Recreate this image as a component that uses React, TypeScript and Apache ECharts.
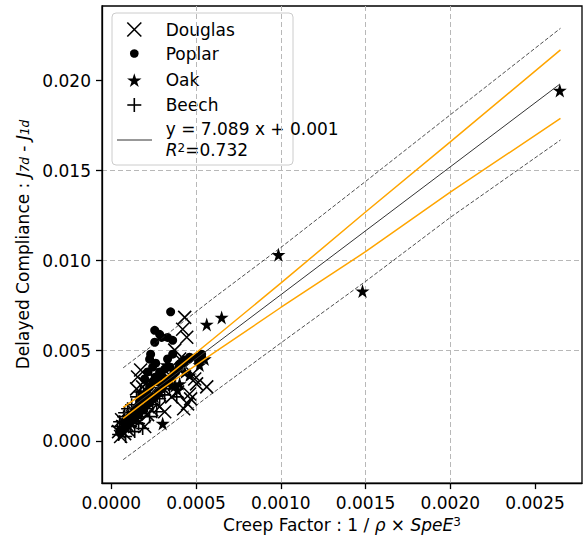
import React, { useEffect, useRef } from "react";
import * as echarts from "echarts";

const FONT = "DejaVu Sans";

// Axis ticks / ranges
const xTickValues = [0, 0.0005, 0.001, 0.0015, 0.002, 0.0025];
const yTickValues = [0, 0.005, 0.01, 0.015, 0.02];
const xRange = [-0.0000549, 0.002777];
const yRange = [-0.00235, 0.02414];

// Series data [creep factor, delayed compliance]
const douglas: [number, number][] = [
  [0.000433, 0.00685], [0.000421, 0.00619], [0.000445, 0.00575], [0.000374, 0.00503],
  [0.000403, 0.00454], [0.00048, 0.00371], [0.000503, 0.00316], [0.000462, 0.0026],
  [0.000563, 0.00299], [0.000492, 0.00343], [0.00045, 0.00205], [0.000427, 0.00178],
  [0.000468, 0.00233], [0.000391, 0.00271], [0.000356, 0.00244], [0.000173, 0.00393],
  [0.000155, 0.00354], [0.000185, 0.00299], [0.000202, 0.00316], [0.000149, 0.00288],
  [0.000226, 0.00255], [0.000256, 0.00216], [0.000285, 0.00189], [0.000315, 0.00161],
  [0.000238, 0.00172], [0.000214, 0.00145], [0.0000608, 0.00117], [0.0000667, 0.00079],
  [0.0000785, 0.0004], [0.0000549, 0.00024], [0.0000431, 0.00051], [0.0000903, 0.0009],
  [0.000108, 0.00106], [0.000126, 0.00134], [0.000138, 0.00156], [0.0000962, 0.00062],
  [0.000167, 0.00106], [0.000197, 0.00079], [0.000273, 0.00282], [0.000315, 0.00327],
  [0.000344, 0.00365],
];
const poplar: [number, number][] = [
  [0.00035, 0.00716], [0.000256, 0.00613], [0.000297, 0.00574], [0.000256, 0.00547],
  [0.000285, 0.00591], [0.000332, 0.00574], [0.000362, 0.00558], [0.000226, 0.00453],
  [0.000244, 0.00409], [0.000262, 0.00431], [0.000232, 0.00481], [0.000503, 0.00464],
  [0.000533, 0.00481], [0.000515, 0.00437], [0.000362, 0.00481], [0.000332, 0.00454],
  [0.000285, 0.00382], [0.000303, 0.00354], [0.000273, 0.00327], [0.000315, 0.00398],
  [0.000344, 0.00409], [0.00038, 0.00382], [0.000226, 0.00299], [0.000209, 0.00271],
  [0.000244, 0.00327], [0.000197, 0.00244], [0.000167, 0.00216], [0.000155, 0.00189],
  [0.000138, 0.00172], [0.00012, 0.00145], [0.0000962, 0.00123], [0.0000785, 0.00095],
  [0.000179, 0.00255], [0.000262, 0.00354], [0.000403, 0.00426], [0.000433, 0.00448],
  [0.000462, 0.00464], [0.000197, 0.00343], [0.000214, 0.00382], [0.000297, 0.00288],
  [0.000049, 0.00046], [0.0000726, 0.00068], [0.0000962, 0.0009], [0.000132, 0.00117],
  [0.000161, 0.00145], [0.000191, 0.00178], [0.00022, 0.00211], [0.00025, 0.00244],
  [0.000279, 0.00277], [0.000309, 0.0031], [0.000338, 0.00343], [0.000368, 0.00371],
  [0.000397, 0.00404], [0.000427, 0.00431], [0.000456, 0.00453],
];
const oak: [number, number][] = [
  [0.002646, 0.01945], [0.000986, 0.01033], [0.001482, 0.00831], [0.000563, 0.00646],
  [0.000651, 0.00685], [0.000303, 0.00096], [0.000327, 0.00421], [0.000403, 0.00316],
  [0.000391, 0.00283], [0.000374, 0.00305], [0.000433, 0.00382], [0.000344, 0.00338],
  [0.000285, 0.00271], [0.000256, 0.00244], [0.000226, 0.00216], [0.000197, 0.00189],
  [0.000167, 0.00161], [0.000138, 0.00134], [0.000356, 0.0031], [0.000462, 0.00365],
  [0.000521, 0.00421], [0.000551, 0.00454],
];
const beech: [number, number][] = [
  [0.0000372, 0.00079], [0.000049, 0.00106], [0.0000608, 0.00068], [0.0000726, 0.00134],
  [0.0000844, 0.00101], [0.000102, 0.00139], [0.000114, 0.00079], [0.000126, 0.00112],
  [0.000143, 0.00134], [0.000161, 0.00095], [0.000185, 0.00068], [0.000179, 0.0015],
  [0.000208, 0.00178], [0.000226, 0.00134], [0.000244, 0.002], [0.000268, 0.00161],
  [0.000285, 0.00233], [0.000315, 0.00255], [0.00012, 0.002], [0.0000962, 0.00178],
  [0.0000785, 0.00156], [0.000149, 0.00244], [0.000173, 0.00271], [0.000209, 0.00338],
  [0.000238, 0.00365], [0.000344, 0.00288], [0.000386, 0.00244], [0.0000431, 0.00035],
  [0.0000844, 0.00024], [0.000138, 0.00051],
];

// Regression line and bands
const fitX = [0.00007, 0.002646];
const fitY = [0.0015, 0.0198];
const bandX = [0.00007, 0.0003, 0.0006, 0.001, 0.0015, 0.002, 0.00265];
const confUpper = [0.00185, 0.00335, 0.00565, 0.00875, 0.0127, 0.0166, 0.0217];
const confLower = [0.00124, 0.0029, 0.00485, 0.0074, 0.0105, 0.0138, 0.0179];
const predUpper = [0.00405, 0.0057, 0.0079, 0.01073, 0.0144, 0.0181, 0.0229];
const predLower = [-0.00105, 0.00055, 0.00266, 0.00543, 0.00885, 0.0124, 0.0167];

const seriesNames = ["Douglas", "Poplar", "Oak", "Beech"];
const fitLabel = "y = 7.089 x + 0.001";
const r2Value = "=0.732";

const X_PATH = "path://M0,0L10,10M10,0L0,10";
const PLUS_PATH = "path://M5,0L5,10M0,5L10,5";
const STAR_PATH =
  "path://M50,0L61.23,34.55L97.55,34.55L68.17,55.9L79.39,90.45L50,69.1L20.61,90.45L31.83,55.9L2.45,34.55L38.77,34.55Z";

function starPoints(cx: number, cy: number, R: number) {
  const pts: number[][] = [];
  for (let k = 0; k < 10; k++) {
    const a = ((-90 + k * 36) * Math.PI) / 180;
    const rad = k % 2 ? R * 0.381 : R;
    pts.push([cx + rad * Math.cos(a), cy + rad * Math.sin(a)]);
  }
  return pts;
}

const pairs = (xs: number[], ys: number[]) => xs.map((x, i) => [x, ys[i]]);

export default function App() {
  const ref = useRef<HTMLDivElement>(null);
  useEffect(() => {
    if (!ref.current) return;
    const chart = echarts.init(ref.current, null, { renderer: "svg" });
    const labelStyle = { fontFamily: FONT, fontSize: 17, color: "#000" };
    const baseText = { fontFamily: FONT, fontSize: 17, color: "#000" };
    const axisLine = { show: true, onZero: false, lineStyle: { color: "#000", width: 1.3 } };
    const splitLine = {
      show: true,
      showMinLine: false,
      showMaxLine: false,
      lineStyle: { color: "#b8b8b8", width: 1, type: [5, 3] },
    };
    const strokeItem = { color: "none", borderColor: "#000", borderWidth: 1.6, opacity: 1 };
    const lx = 134.3;
    const tx = 165.7;
    const textStyle = (t: string, y: number) => ({
      type: "text",
      x: tx,
      y,
      style: {
        text: t,
        fontFamily: FONT,
        fontSize: 17,
        fill: "#000",
        align: "left",
        verticalAlign: "middle",
        textAlign: "left",
        textVerticalAlign: "middle",
      },
    });
    const option: any = {
      animation: false,
      textStyle: { fontFamily: FONT },
      grid: {
        left: 102,
        right: 2,
        top: 6,
        bottom: 54,
        show: true,
        borderColor: "#000",
        borderWidth: 1.3,
        backgroundColor: "transparent",
      },
      xAxis: {
        type: "value",
        min: xRange[0],
        max: xRange[1],
        axisLine,
        axisTick: { show: true, length: 6, customValues: xTickValues, lineStyle: { color: "#000", width: 1.3 } },
        axisLabel: {
          ...labelStyle,
          margin: 11,
          customValues: xTickValues,
          formatter: (v: number) => v.toFixed(4),
        },
        splitLine,
        name: "{n|Creep Factor : 1 / }{i|ρ}{n| × }{i|SpeE}{sup|3}",
        nameLocation: "middle",
        nameGap: 32,
        nameTextStyle: {
          ...baseText,
          rich: {
            n: { ...baseText, lineHeight: 17, verticalAlign: "bottom" },
            i: { ...baseText, fontStyle: "italic", lineHeight: 17, verticalAlign: "bottom" },
            sup: { ...baseText, fontSize: 12, lineHeight: 12, padding: [0, 0, 8, 0], verticalAlign: "top" },
          },
        },
      },
      yAxis: {
        type: "value",
        min: yRange[0],
        max: yRange[1],
        axisLine,
        axisTick: { show: true, length: 6, customValues: yTickValues, lineStyle: { color: "#000", width: 1.3 } },
        axisLabel: {
          ...labelStyle,
          margin: 11,
          customValues: yTickValues,
          formatter: (v: number) => v.toFixed(3),
        },
        splitLine,
        name: "{n|Delayed Compliance : }{i|J}{sub|7d}{n| - }{i|J}{sub|1d}",
        nameLocation: "middle",
        nameRotate: 90,
        nameGap: 66,
        nameTextStyle: {
          ...baseText,
          rich: {
            n: { ...baseText, lineHeight: 17, verticalAlign: "top" },
            i: { ...baseText, fontStyle: "italic", lineHeight: 17, verticalAlign: "top" },
            sub: { ...baseText, fontSize: 12, fontStyle: "italic", lineHeight: 12, padding: [8, 0, 0, 0], verticalAlign: "bottom" },
          },
        },
      },
      series: [
        {
          name: seriesNames[0], type: "scatter", data: douglas, symbol: X_PATH, symbolSize: 13,
          itemStyle: strokeItem, silent: true, z: 2,
        },
        {
          name: seriesNames[1], type: "scatter", data: poplar, symbol: "circle", symbolSize: 9,
          itemStyle: { color: "#000", opacity: 1 }, silent: true, z: 2,
        },
        {
          name: seriesNames[2], type: "scatter", data: oak, symbol: STAR_PATH, symbolSize: 14,
          itemStyle: { color: "#000", opacity: 1 }, silent: true, z: 2,
        },
        {
          name: seriesNames[3], type: "scatter", data: beech, symbol: PLUS_PATH, symbolSize: 13,
          itemStyle: strokeItem, silent: true, z: 2,
        },
        {
          name: "fit", type: "line", data: pairs(fitX, fitY), showSymbol: false, symbol: "none",
          lineStyle: { color: "#333", width: 1 }, silent: true, z: 4,
        },
        {
          name: "confU", type: "line", data: pairs(bandX, confUpper), showSymbol: false, symbol: "none",
          lineStyle: { color: "#ffa500", width: 1.5 }, silent: true, z: 3,
        },
        {
          name: "confL", type: "line", data: pairs(bandX, confLower), showSymbol: false, symbol: "none",
          lineStyle: { color: "#ffa500", width: 1.5 }, silent: true, z: 3,
        },
        {
          name: "predU", type: "line", data: pairs(bandX, predUpper), showSymbol: false, symbol: "none",
          lineStyle: { color: "#222", width: 0.8, type: [4, 2] }, silent: true, z: 3,
        },
        {
          name: "predL", type: "line", data: pairs(bandX, predLower), showSymbol: false, symbol: "none",
          lineStyle: { color: "#222", width: 0.8, type: [4, 2] }, silent: true, z: 3,
        },
      ],
      graphic: [
        {
          type: "group",
          z: 100,
          silent: true,
          children: [
            {
              type: "rect",
              shape: { x: 112, y: 13, width: 181, height: 152, r: 4 },
              style: { fill: "rgba(255,255,255,0.8)", stroke: "#cccccc", lineWidth: 1 },
            },
            { type: "line", shape: { x1: lx - 7, y1: 22.5, x2: lx + 7, y2: 36.5 }, style: { stroke: "#000", lineWidth: 1.6 } },
            { type: "line", shape: { x1: lx + 7, y1: 22.5, x2: lx - 7, y2: 36.5 }, style: { stroke: "#000", lineWidth: 1.6 } },
            { type: "circle", shape: { cx: lx, cy: 53.5, r: 4.3 }, style: { fill: "#000" } },
            { type: "polygon", shape: { points: starPoints(lx, 80.8, 7.6) }, style: { fill: "#000" } },
            { type: "line", shape: { x1: lx, y1: 98, x2: lx, y2: 112 }, style: { stroke: "#000", lineWidth: 1.6 } },
            { type: "line", shape: { x1: lx - 7, y1: 105, x2: lx + 7, y2: 105 }, style: { stroke: "#000", lineWidth: 1.6 } },
            { type: "line", shape: { x1: 117, y1: 140, x2: 152, y2: 140 }, style: { stroke: "#333", lineWidth: 1 } },
            textStyle(seriesNames[0], 29.5),
            textStyle(seriesNames[1], 54),
            textStyle(seriesNames[2], 79.5),
            textStyle(seriesNames[3], 105),
            textStyle(fitLabel, 129),
            {
              type: "text",
              x: tx,
              y: 150,
              style: {
                text: "{i|R}{sup|2}{n|" + r2Value + "}",
                fontFamily: FONT,
                fontSize: 17,
                fill: "#000",
                align: "left",
                verticalAlign: "middle",
                textAlign: "left",
                textVerticalAlign: "middle",
                rich: {
                  n: { fontFamily: FONT, fontSize: 17, fill: "#000", lineHeight: 17, verticalAlign: "bottom" },
                  i: { fontFamily: FONT, fontSize: 17, fill: "#000", fontStyle: "italic", lineHeight: 17, verticalAlign: "bottom" },
                  sup: { fontFamily: FONT, fontSize: 12, fill: "#000", lineHeight: 12, padding: [0, 0, 7, 0], verticalAlign: "top" },
                },
              },
            },
          ],
        },
      ],
    };
    chart.setOption(option);
    return () => chart.dispose();
  }, []);
  return (
    <div
      ref={ref}
      style={{ position: "absolute", left: 0, top: 0, width: 584, height: 541, background: "#fff" }}
    />
  );
}
